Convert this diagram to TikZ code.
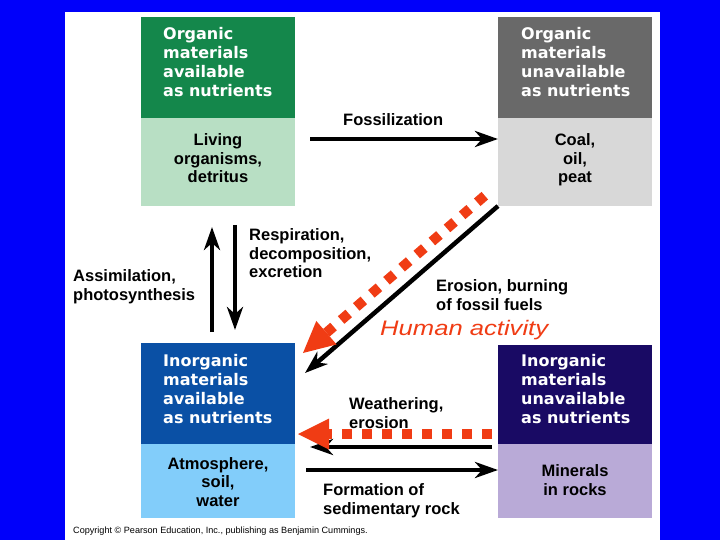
\documentclass[tikz,border=0pt]{standalone}
\usepackage{fontspec}
\setmainfont{Liberation Sans}
\newfontfamily\hdrfont{DejaVu Sans}
\usepackage{graphicx}
\usepackage{tikz}
\usetikzlibrary{arrows.meta}

\definecolor{slideblue}{RGB}{0,0,250}
\definecolor{greendark}{RGB}{20,135,75}
\definecolor{greenlight}{RGB}{184,223,196}
\definecolor{graydark}{RGB}{105,105,105}
\definecolor{graylight}{RGB}{216,216,216}
\definecolor{bluedark}{RGB}{10,80,165}
\definecolor{bluelight}{RGB}{130,205,250}
\definecolor{navydark}{RGB}{25,10,100}
\definecolor{lilac}{RGB}{185,170,215}
\definecolor{humanred}{RGB}{240,60,20}

\begin{document}
\begin{tikzpicture}[x=1pt, y=-1pt,
  box/.style={rectangle, inner sep=0pt, outer sep=0pt, minimum width=154pt, anchor=north west},
  hdrtext/.style={text=white, align=left, inner sep=0pt, anchor=base west,
    font=\hdrfont\bfseries\fontsize{16}{19}\selectfont},
  bodytext/.style={align=center, inner sep=0pt, anchor=base,
    font=\bfseries\fontsize{16.5}{18.5}\selectfont},
  lbl/.style={align=left, inner sep=0pt, anchor=base west,
    font=\bfseries\fontsize{16.5}{18.5}\selectfont},
  flow/.style={line width=4.5pt, -{Stealth[length=23pt, width=16pt, inset=7pt]}},
  human/.style={draw=humanred, line width=10pt, dash pattern=on 10pt off 10pt,
    -{Triangle[length=31pt, width=31pt, line width=0pt]}}]
  \useasboundingbox (0,0) rectangle (720,540);
  % ---- slide ----
  \fill[slideblue] (0,0) rectangle (720,540);
  \fill[white] (65,12) rectangle (660,540);

  % ---- boxes ----
  \node[box, fill=greendark, minimum height=101pt] (orgA) at (141,17) {};
  \node[box, fill=greenlight, minimum height=88pt] (living) at (orgA.south west) {};
  \node[box, fill=graydark, minimum height=101pt] (orgU) at (498,17) {};
  \node[box, fill=graylight, minimum height=88pt] (coal) at (orgU.south west) {};
  \node[box, fill=bluedark, minimum height=101pt] (inorgA) at (141,343) {};
  \node[box, fill=bluelight, minimum height=74pt] (atmos) at (inorgA.south west) {};
  \node[box, fill=navydark, minimum height=99pt] (inorgU) at (498,345) {};
  \node[box, fill=lilac, minimum height=74pt] (rocks) at (inorgU.south west) {};

  % text is placed by the baseline of its last line
  \node[hdrtext] (orgAtxt) at ([shift={(22,79.5)}]orgA.north west)
    {Organic\\materials\\available\\as nutrients};
  \node[hdrtext] (orgUtxt) at ([shift={(23,80)}]orgU.north west)
    {Organic\\materials\\unavailable\\as nutrients};
  \node[hdrtext] (inorgAtxt) at ([shift={(22,80)}]inorgA.north west)
    {Inorganic\\materials\\available\\as nutrients};
  \node[hdrtext] (inorgUtxt) at ([shift={(23,78.5)}]inorgU.north west)
    {Inorganic\\materials\\unavailable\\as nutrients};

  \node[bodytext] (livingtxt) at ([shift={(0,65)}]living.north) {Living\\organisms,\\detritus};
  \node[bodytext] (coaltxt) at ([shift={(0,65)}]coal.north) {Coal,\\oil,\\peat};
  \node[bodytext] (atmostxt) at ([shift={(0,62)}]atmos.north) {Atmosphere,\\soil,\\water};
  \node[bodytext] (rockstxt) at ([shift={(0,51)}]rocks.north) {Minerals\\in rocks};

  % ---- labels ----
  \node[lbl] (fossil) at (343,126) {Fossilization};
  \node[lbl] (resp) at (249,277.5) {Respiration,\\decomposition,\\excretion};
  \node[lbl] (assim) at (73,300) {Assimilation,\\photosynthesis};
  \node[lbl] (burning) at (436,310) {Erosion, burning\\of fossil fuels};
  \node[lbl] (weather) at (349,428) {Weathering,\\erosion};
  \node[lbl] (formation) at (323,514) {Formation of\\sedimentary rock};
  \node[anchor=base west, inner sep=0pt, text=humanred,
    font=\itshape\fontsize{21}{25}\selectfont] (humantxt) at (380,335)
    {\scalebox{1.22}[1]{Human activity}};
  \node[anchor=base west, inner sep=0pt, font=\fontsize{9.1}{11}\selectfont] (copyright)
    at (73,533) {Copyright © Pearson Education, Inc., publishing as Benjamin Cummings.};

  % ---- flows ----
  \coordinate (fosStart) at (310,139);
  \draw[flow] (fosStart) -- (fosStart -| coal.west);
  \coordinate (upStart) at (212,332);
  \coordinate (upEnd) at (212,227);
  \draw[flow] (upStart) -- (upEnd);
  \coordinate (downStart) at (235,225);
  \coordinate (downEnd) at (235,330);
  \draw[flow] (downStart) -- (downEnd);
  \coordinate (burnEnd) at (305,373);
  \draw[flow] (coal.south west) -- (burnEnd);
  \coordinate (weatherStart) at (492,447);
  \coordinate (weatherEnd) at (310,447);
  \draw[flow] (weatherStart) -- (weatherEnd);
  \coordinate (formStart) at (306,470);
  \draw[flow] (formStart) -- (formStart -| rocks.west);

  % ---- human activity ----
  \coordinate (humanDiagStart) at (484.8,195.7);
  \coordinate (humanDiagEnd) at (303,353);
  \draw[human] (humanDiagStart) -- (humanDiagEnd);
  \coordinate (humanHorStart) at (492,434);
  \coordinate (humanHorEnd) at (298,434);
  \draw[human] (humanHorStart) -- (humanHorEnd);
\end{tikzpicture}
\end{document}
